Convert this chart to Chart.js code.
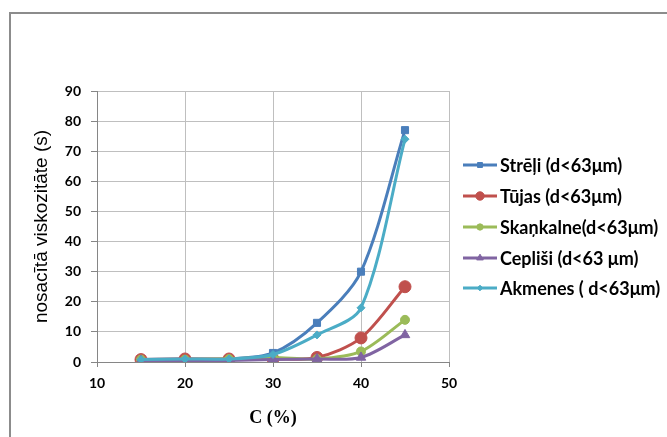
<!DOCTYPE html>
<html>
<head>
<meta charset="utf-8">
<script src="https://cdn.jsdelivr.net/npm/chart.js@4"></script>
<style>
  html, body { margin: 0; padding: 0; background: #fff; }
  #wrap { width: 667px; height: 437px; position: relative; }
</style>
</head>
<body>
<div id="wrap"><canvas id="myChart" width="667" height="437"></canvas></div>
<script>
const concentracija = [15, 20, 25, 30, 35, 40, 45];
const streli = [0.8, 1, 1, 3, 13, 30, 77];
const tujas = [0.8, 1, 1, 1, 1.5, 8, 25];
const skankalne = [0.8, 0.8, 1, 1.5, 1, 3.5, 14];
const ceplisi = [0.5, 0.5, 0.5, 0.8, 1, 1.5, 9];
const akmenes = [0.8, 1, 1, 2.5, 9, 18, 74];
const nosaukumi = ['Strēļi (d<63μm)', 'Tūjas (d<63μm)', 'Skaņkalne(d<63μm)', 'Cepliši (d<63 μm)', 'Akmenes ( d<63μm)'];
const xTicks = [10, 20, 30, 40, 50];
const yTicks = [0, 10, 20, 30, 40, 50, 60, 70, 80, 90];

const krasas = ['#4a7ebb', '#c0504d', '#9bbb59', '#8064a2', '#4bacc6'];
const punkti = ['rect', 'circle', 'circle', 'triangle', 'rectRot'];
const izmeri = [5, 6, 4.5, 5.5, 4];
const serijas = [streli, tujas, skankalne, ceplisi, akmenes];

const ctx = document.getElementById('myChart');

const datasets = serijas.map((s, i) => ({
    label: nosaukumi[i],
    data: s.map((v, j) => ({ x: concentracija[j], y: v })),
    borderColor: krasas[i],
    backgroundColor: krasas[i],
    borderWidth: 3,
    pointStyle: punkti[i],
    pointRadius: izmeri[i],
    pointBorderWidth: 1,
    pointBorderColor: krasas[i],
    tension: 0.3,
    order: 4 - i
}));

// outer frame like the spreadsheet chart area
const ramis = {
    id: 'ramis',
    beforeDraw(chart) {
        const c = chart.ctx;
        c.save();
        c.fillStyle = '#fff';
        c.fillRect(0, 0, chart.width, chart.height);
        c.strokeStyle = '#8c8c8c';
        c.lineWidth = 2;
        c.strokeRect(10, 13, 800, 600);
        c.restore();
    }
};

// legend drawn by hand: line with marker in the middle
const legenda = {
    id: 'legenda',
    afterDraw(chart) {
        const c = chart.ctx;
        const rindas = [165, 196, 227, 258, 288];
        c.save();
        chart.data.datasets.forEach((ds, i) => {
            const y = rindas[i];
            c.strokeStyle = ds.borderColor;
            c.lineWidth = 3;
            c.beginPath();
            c.moveTo(463, y);
            c.lineTo(497, y);
            c.stroke();
            c.fillStyle = ds.backgroundColor;
            c.lineWidth = 1;
            Chart.helpers.drawPoint(c, {
                pointStyle: ds.pointStyle,
                radius: ds.pointRadius * 0.7,
                rotation: 0,
                borderWidth: 1
            }, 480, y);
            c.fillStyle = '#000';
            c.font = 'bold 18px Lato';
            c.textBaseline = 'middle';
            c.textAlign = 'left';
            c.fillText(ds.label, 500, y + 1);
        });
        c.restore();
    }
};

new Chart(ctx, {
    type: 'line',
    data: { datasets: datasets },
    plugins: [ramis, legenda],
    options: {
        responsive: false,
        animation: false,
        layout: { padding: { top: 91, right: 218, left: 0, bottom: 0 } },
        plugins: {
            legend: { display: false },
            tooltip: { enabled: false }
        },
        scales: {
            x: {
                type: 'linear',
                min: 10,
                max: 50,
                afterBuildTicks: (scale) => { scale.ticks = xTicks.map(v => ({ value: v })); },
                afterFit: (scale) => { scale.height = 75; },
                ticks: {
                    color: '#000',
                    font: { family: 'Lato', size: 14, weight: 'bold' },
                    padding: 8,
                    maxRotation: 0
                },
                grid: { color: '#bfbfbf', tickLength: 5, tickColor: '#868686' },
                border: { color: '#868686', width: 1 },
                title: {
                    display: true,
                    text: 'C (%)',
                    color: '#000',
                    font: { family: 'Liberation Serif', size: 18, weight: 'bold' },
                    padding: { top: 0, bottom: 8 }
                }
            },
            y: {
                min: 0,
                max: 90,
                afterBuildTicks: (scale) => { scale.ticks = yTicks.map(v => ({ value: v })); },
                afterFit: (scale) => { scale.width = 97; },
                ticks: {
                    color: '#000',
                    font: { family: 'Lato', size: 14, weight: 'bold' },
                    padding: 10
                },
                grid: { color: '#bfbfbf', tickLength: 6, tickColor: '#868686' },
                border: { color: '#868686', width: 1 },
                title: {
                    display: true,
                    text: 'nosacītā viskozitāte (s)',
                    color: '#000',
                    font: { family: 'Liberation Sans', size: 19 },
                    padding: { top: 30, bottom: 0 }
                }
            }
        }
    }
});
</script>
</body>
</html>
